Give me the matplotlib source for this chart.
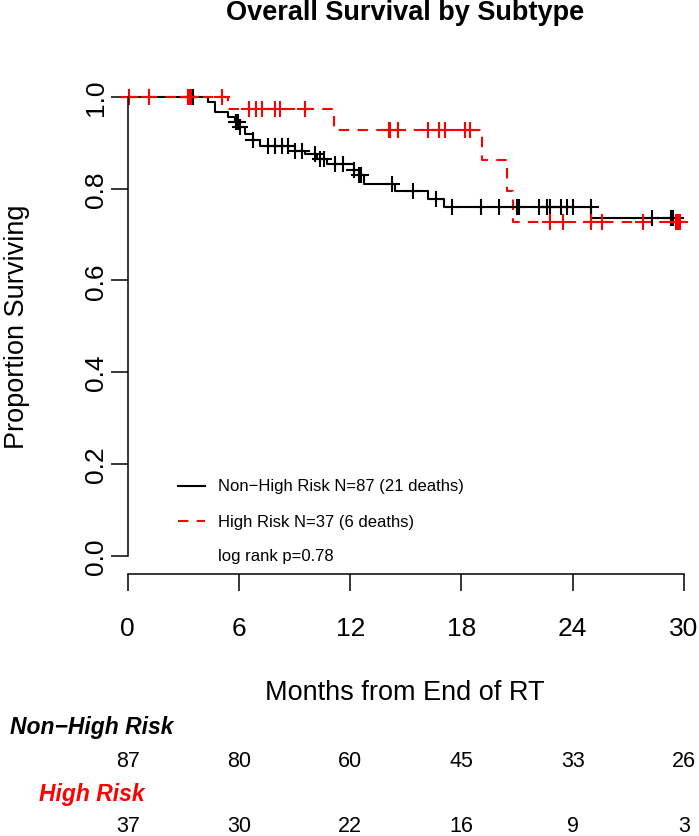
import numpy as np
import matplotlib.pyplot as plt
from matplotlib.lines import Line2D
from matplotlib.transforms import blended_transform_factory

plt.rcParams['font.family'] = ['Liberation Sans', 'DejaVu Sans']

# Kaplan-Meier steps (months, survival after the step)
nhr_times = [4.34, 4.70, 5.42, 5.78, 6.00, 6.32, 6.77, 7.14, 9.03, 9.57, 10.2,
             10.74, 12.18, 12.45, 12.73, 14.4, 16.2, 17.05, 25.0]
nhr_surv = [0.989, 0.967, 0.956, 0.945, 0.934, 0.919, 0.906, 0.894, 0.883, 0.876,
            0.865, 0.854, 0.840, 0.829, 0.810, 0.794, 0.778, 0.761, 0.736]
nhr_cens = [3.53, 5.85, 5.95, 6.05, 6.77, 7.58, 7.95, 8.3, 8.67, 9.03, 9.38, 10.1,
            10.38, 10.6, 11.19, 11.6, 12.2, 12.45, 12.6, 14.25, 15.4, 16.6, 17.5,
            19.03, 20.0, 20.97, 21.1, 22.2, 22.6, 22.8, 23.35, 23.7, 24.0, 24.97,
            28.3, 29.3, 29.4]

hr_times = [5.42, 11.15, 19.1, 20.47, 20.77]
hr_surv = [0.973, 0.927, 0.862, 0.795, 0.728]
hr_cens = [0.05, 1.15, 3.26, 3.33, 3.39, 5.06, 6.52, 6.94, 7.24, 7.96, 8.19, 9.57,
           14.07, 14.12, 14.6, 16.2, 16.8, 17.1, 18.2, 18.45, 22.76, 23.5, 24.97,
           25.57, 27.8, 29.55, 29.65, 29.8]

end_time = 30
risk_times = [0, 6, 12, 18, 24, 30]
nhr_risk = [87, 80, 60, 45, 33, 26]
hr_risk = [37, 30, 22, 16, 9, 3]

W, H = 699, 837


def fx(px):
    return px / W


def fy(py):
    return 1 - py / H


def surv_at(t, times, surv):
    idx = np.searchsorted(times, t, side='right')
    return np.concatenate([[1.0], surv])[idx]


fig = plt.figure(figsize=(W / 100, H / 100), dpi=100)
ax = fig.add_axes([fx(127.7), fy(575), (684 - 127.7) / W, (575 - 79.6) / H])
ax.set_xlim(0, 30)
ax.set_ylim(-0.04, 1.04)

# curves
bx = [0] + nhr_times + [end_time]
by = [1.0] + nhr_surv + [nhr_surv[-1]]
ax.step(bx, by, where='post', color='black', lw=1.5)
rx = [0] + hr_times + [end_time]
ry = [1.0] + hr_surv + [hr_surv[-1]]
ax.step(rx, ry, where='post', color='red', lw=1.5, dashes=(5, 4))

# censor marks
ax.plot(nhr_cens, surv_at(nhr_cens, nhr_times, nhr_surv), '+', color='black',
        ms=11, mew=1.5, clip_on=False)
ax.plot(hr_cens, surv_at(hr_cens, hr_times, hr_surv), '+', color='red',
        ms=11, mew=1.5, clip_on=False)

# axes in R style
for s in ['top', 'right']:
    ax.spines[s].set_visible(False)
ax.spines['left'].set_bounds(0, 1)
ax.spines['bottom'].set_bounds(0, 30)
for s in ['left', 'bottom']:
    ax.spines[s].set_linewidth(1.1)
ax.set_xticks(risk_times)
ax.set_yticks([0, 0.2, 0.4, 0.6, 0.8, 1.0])
ax.set_yticklabels(['0.0', '0.2', '0.4', '0.6', '0.8', '1.0'])
ax.tick_params(axis='x', length=12.2, width=1.1, labelsize=19, pad=18)
ax.tick_params(axis='y', length=12.2, width=1.1, labelsize=19, pad=2)
plt.setp(ax.get_yticklabels(), rotation=90, va='center')

fig.text(fx(405), fy(13), 'Overall Survival by Subtype', ha='center', va='center',
         fontsize=19.5, fontweight='bold')
fig.text(fx(17), fy(327), 'Proportion Surviving', ha='center', va='center',
         rotation=90, fontsize=19.5)
fig.text(fx(405), fy(693), 'Months from End of RT', ha='center', va='center',
         fontsize=19.5)

# legend
leg_rows = [487, 522, 557]
fig.add_artist(Line2D([fx(178), fx(205)], [fy(leg_rows[0])] * 2, color='black', lw=1.5))
fig.add_artist(Line2D([fx(178), fx(205)], [fy(leg_rows[1])] * 2, color='red', lw=1.5,
                      dashes=(5, 4)))
fig.text(fx(218), fy(leg_rows[0]), 'Non\u2212High Risk N=87 (21 deaths)', va='center', fontsize=12)
fig.text(fx(218), fy(leg_rows[1]), 'High Risk N=37 (6 deaths)', va='center', fontsize=12)
fig.text(fx(218), fy(leg_rows[2]), 'log rank p=0.78', va='center', fontsize=12)

# numbers at risk
tr = blended_transform_factory(ax.transData, fig.transFigure)
fig.text(fx(92), fy(728), 'Non\u2212High Risk', ha='center', va='center', fontsize=16.5,
         fontweight='bold', fontstyle='italic', color='black')
fig.text(fx(92), fy(795), 'High Risk', ha='center', va='center', fontsize=16.5,
         fontweight='bold', fontstyle='italic', color='red')
for t, n in zip(risk_times, nhr_risk):
    ax.text(t, fy(762), str(n), transform=tr, ha='center', va='center', fontsize=15.5)
for t, n in zip(risk_times, hr_risk):
    ax.text(t, fy(827), str(n), transform=tr, ha='center', va='center', fontsize=15.5)

fig.savefig('out.png', dpi=100)
